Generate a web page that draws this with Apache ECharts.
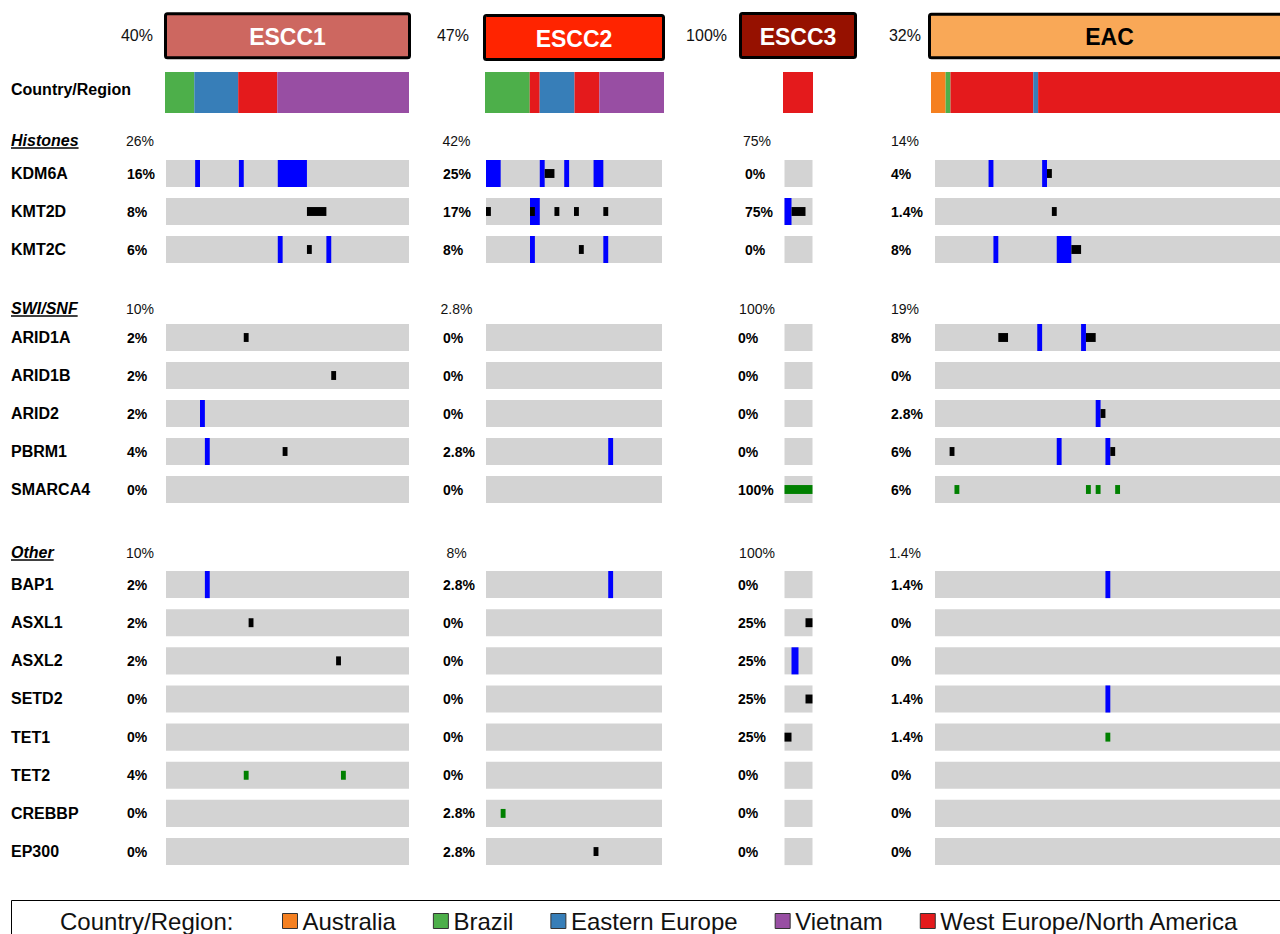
<!DOCTYPE html>
<html>
<head>
<meta charset="utf-8">
<script src="https://cdn.jsdelivr.net/npm/echarts@6/dist/echarts.min.js"></script>
<style>
  html, body { margin: 0; padding: 0; background: #fff; }
  #chart { width: 1280px; height: 934px; }
</style>
</head>
<body>
<div id="chart"></div>
<script>
const FONT = '"Liberation Sans", Arial, Helvetica, sans-serif';

// ---- data ----
const cohorts = ['ESCC1', 'ESCC2', 'ESCC3', 'EAC'];
const cohortSizes = [50, 36, 4, 72];
const cohortAlteredPct = [40, 47, 100, 32];

const sectionNames = ['Histones', 'SWI/SNF', 'Other'];
const histoneGenes = ['KDM6A', 'KMT2D', 'KMT2C'];
const swisnfGenes = ['ARID1A', 'ARID1B', 'ARID2', 'PBRM1', 'SMARCA4'];
const otherGenes = ['BAP1', 'ASXL1', 'ASXL2', 'SETD2', 'TET1', 'TET2', 'CREBBP', 'EP300'];
// share of samples altered in any gene of a pathway, per cohort
const sectionAlteredPct = [[26, 10, 10], [42, 2.8, 8], [75, 100, 100], [14, 19, 1.4]];

const regions = ['Australia', 'Brazil', 'Eastern Europe', 'Vietnam', 'West Europe/North America'];
// consecutive runs of samples by country/region, left to right
const regionRunsESCC1 = [['Brazil', 6], ['Eastern Europe', 9], ['West Europe/North America', 8], ['Vietnam', 27]];
const regionRunsESCC2 = [['Brazil', 9], ['West Europe/North America', 2], ['Eastern Europe', 7], ['West Europe/North America', 5], ['Vietnam', 13]];
const regionRunsESCC3 = [['West Europe/North America', 4]];
const regionRunsEAC = [['Australia', 3], ['Brazil', 1], ['West Europe/North America', 17], ['Eastern Europe', 1], ['West Europe/North America', 50]];

// alterations: [gene, first sample, consecutive samples, class]
// class T = truncating, M = missense, O = other (in-frame)
const altESCC1 = [
  ['KDM6A', 6, 1, 'T'], ['KDM6A', 15, 1, 'T'], ['KDM6A', 23, 6, 'T'],
  ['KMT2D', 29, 4, 'M'],
  ['KMT2C', 23, 1, 'T'], ['KMT2C', 29, 1, 'M'], ['KMT2C', 33, 1, 'T'],
  ['ARID1A', 16, 1, 'M'], ['ARID1B', 34, 1, 'M'], ['ARID2', 7, 1, 'T'],
  ['PBRM1', 8, 1, 'T'], ['PBRM1', 24, 1, 'M'],
  ['BAP1', 8, 1, 'T'], ['ASXL1', 17, 1, 'M'], ['ASXL2', 35, 1, 'M'],
  ['TET2', 16, 1, 'O'], ['TET2', 36, 1, 'O']
];
const altESCC2 = [
  ['KDM6A', 0, 3, 'T'], ['KDM6A', 11, 1, 'T'], ['KDM6A', 12, 2, 'M'], ['KDM6A', 16, 1, 'T'], ['KDM6A', 22, 2, 'T'],
  ['KMT2D', 0, 1, 'M'], ['KMT2D', 9, 2, 'T'], ['KMT2D', 9, 1, 'M'], ['KMT2D', 14, 1, 'M'], ['KMT2D', 18, 1, 'M'], ['KMT2D', 24, 1, 'M'],
  ['KMT2C', 9, 1, 'T'], ['KMT2C', 19, 1, 'M'], ['KMT2C', 24, 1, 'T'],
  ['PBRM1', 25, 1, 'T'],
  ['BAP1', 25, 1, 'T'], ['CREBBP', 3, 1, 'O'], ['EP300', 22, 1, 'M']
];
const altESCC3 = [
  ['KMT2D', 0, 1, 'T'], ['KMT2D', 1, 2, 'M'],
  ['SMARCA4', 0, 4, 'O'],
  ['ASXL1', 3, 1, 'M'], ['ASXL2', 1, 1, 'T'], ['SETD2', 3, 1, 'M'], ['TET1', 0, 1, 'M']
];
const altEAC = [
  ['KDM6A', 11, 1, 'T'], ['KDM6A', 22, 1, 'T'], ['KDM6A', 23, 1, 'M'],
  ['KMT2D', 24, 1, 'M'],
  ['KMT2C', 12, 1, 'T'], ['KMT2C', 25, 3, 'T'], ['KMT2C', 28, 2, 'M'],
  ['ARID1A', 13, 2, 'M'], ['ARID1A', 21, 1, 'T'], ['ARID1A', 30, 1, 'T'], ['ARID1A', 31, 2, 'M'],
  ['ARID2', 33, 1, 'T'], ['ARID2', 34, 1, 'M'],
  ['PBRM1', 3, 1, 'M'], ['PBRM1', 25, 1, 'T'], ['PBRM1', 35, 1, 'T'], ['PBRM1', 36, 1, 'M'],
  ['SMARCA4', 4, 1, 'O'], ['SMARCA4', 31, 1, 'O'], ['SMARCA4', 33, 1, 'O'], ['SMARCA4', 37, 1, 'O'],
  ['BAP1', 35, 1, 'T'], ['SETD2', 35, 1, 'T'], ['TET1', 35, 1, 'O']
];

// ---- styling & layout ----
const cohortColors = ['#cd6760', '#ff2400', '#961100', '#f9a857'];
const cohortTextColors = ['#ffffff', '#ffffff', '#ffffff', '#000000'];
const regionColors = ['#f58020', '#4daf4a', '#377eb8', '#984ea3', '#e41a1c'];
const markColors = { T: '#0000ff', M: '#000000', O: '#008000' };
const ROW_FILL = '#d3d3d3';

const sectionGenes = [histoneGenes, swisnfGenes, otherGenes];
const regionRuns = [regionRunsESCC1, regionRunsESCC2, regionRunsESCC3, regionRunsEAC];
const alterations = [altESCC1, altESCC2, altESCC3, altEAC];

const panelLeft = [166, 486, 784.5, 935];
const panelWidth = [243, 176, 28, 350.6];
const stripLeft = [165, 485, 783, 931];
const stripWidth = [244, 179, 30, 350.6];
const sectionTop = [154.5, 318.5, 565.5];
const rowPitch = [38, 38, 38.14];
const pctLabelX = [[127, 127, 127], [443, 443, 443], [745, 738, 738], [891, 891, 891]];
const sectionHeadY = [140, 308, 552];
const sectionPctX = [140, 456.5, 757, 905];
const headerBoxes = [[165.5, 13.8, 244, 44], [484.5, 15.5, 179, 44], [740.5, 13.5, 115, 44], [929.5, 14.2, 360, 43.5]];
const headerPctRight = [153, 469, 727, 921];

function fmtPct(p) {
  if (p === 0) return '0%';
  if (p < 3) return (Math.round(p * 10) / 10) + '%';
  return Math.round(p) + '%';
}

function textEl(x, y, text, opts) {
  const st = Object.assign({
    text: text, fill: '#000', fontFamily: FONT, fontSize: 14,
    align: 'left', verticalAlign: 'middle', textAlign: 'left', textVerticalAlign: 'middle'
  }, opts || {});
  if (opts && opts.align) st.textAlign = opts.align;
  return { type: 'text', x: x, y: y, silent: true, style: st };
}

const grids = [], xAxes = [], yAxes = [], series = [], graphics = [];

cohorts.forEach((name, c) => {
  const N = cohortSizes[c];

  // country / region strip
  let gi = grids.length;
  grids.push({ left: stripLeft[c], top: 72, width: stripWidth[c], height: 41, outerBoundsMode: 'none' });
  xAxes.push({ gridIndex: gi, type: 'value', min: 0, max: N, show: false });
  yAxes.push({ gridIndex: gi, type: 'category', data: ['Country/Region'], show: false });
  regionRuns[c].forEach(([region, n]) => {
    series.push({
      type: 'bar', name: region, xAxisIndex: gi, yAxisIndex: gi, stack: 'region' + c,
      data: [n], barWidth: '100%', silent: true,
      itemStyle: { color: regionColors[regions.indexOf(region)] }
    });
  });

  // pathway sections
  sectionGenes.forEach((genes, s) => {
    gi = grids.length;
    grids.push({ left: panelLeft[c], top: sectionTop[s], width: panelWidth[c], height: genes.length * rowPitch[s], outerBoundsMode: 'none' });
    xAxes.push({ gridIndex: gi, type: 'value', min: 0, max: N, show: false });

    const items = alterations[c]
      .filter(a => genes.indexOf(a[0]) >= 0)
      .sort((a, b) => (a[3] === 'T' ? 0 : 1) - (b[3] === 'T' ? 0 : 1));
    const pct = genes.map(g => {
      const hit = new Set();
      alterations[c].forEach(a => { if (a[0] === g) for (let k = 0; k < a[2]; k++) hit.add(a[1] + k); });
      return fmtPct(100 * hit.size / N);
    });

    yAxes.push({
      gridIndex: gi, type: 'category', data: genes, inverse: true,
      axisLine: { show: false }, axisTick: { show: false }, splitLine: { show: false },
      axisLabel: {
        interval: 0, align: 'left',
        margin: c === 0 ? panelLeft[c] - 11 : panelLeft[c] - pctLabelX[c][s],
        formatter: (val, idx) => c === 0 ? '{g|' + val + '}{p|' + pct[idx] + '}' : '{p|' + pct[idx] + '}',
        rich: {
          g: { width: 116, fontSize: 16, fontWeight: 'bold', color: '#000', fontFamily: FONT },
          p: { fontSize: 14, fontWeight: 'bold', color: '#000', fontFamily: FONT }
        }
      }
    });

    // grey row backgrounds
    series.push({
      type: 'custom', xAxisIndex: gi, yAxisIndex: gi, silent: true,
      data: genes.map((g, i) => [0, i]),
      renderItem: (params, api) => {
        const y = api.value(1);
        const a = api.coord([0, y]), b = api.coord([N, y]);
        const h = api.size([0, 1])[1] * 27 / 38;
        return { type: 'rect', shape: { x: a[0], y: a[1] - h / 2, width: b[0] - a[0], height: h }, style: { fill: ROW_FILL } };
      }
    });

    // alteration marks
    series.push({
      type: 'custom', xAxisIndex: gi, yAxisIndex: gi, silent: true,
      data: items.map(a => [a[1], genes.indexOf(a[0])]),
      renderItem: (params, api) => {
        const it = items[params.dataIndex];
        const x0 = api.value(0), y = api.value(1);
        const a = api.coord([x0, y]), b = api.coord([x0 + it[2], y]);
        const full = api.size([0, 1])[1] * 27 / 38;
        const h = it[3] === 'T' ? full : full * 0.33;
        return { type: 'rect', shape: { x: a[0], y: a[1] - h / 2, width: b[0] - a[0], height: h }, style: { fill: markColors[it[3]] } };
      }
    });

    graphics.push(textEl(sectionPctX[c], sectionHeadY[s] + 1, fmtPct(sectionAlteredPct[c][s]), { align: 'center', fontSize: 14, fill: '#111' }));
  });

  // cohort header
  const hb = headerBoxes[c];
  graphics.push({ type: 'rect', silent: true, shape: { x: hb[0], y: hb[1], width: hb[2], height: hb[3], r: 2 }, style: { fill: cohortColors[c], stroke: '#000', lineWidth: 3 } });
  graphics.push(textEl(hb[0] + hb[2] / 2, hb[1] + hb[3] / 2 + 1, name, { align: 'center', fontSize: 23, fontWeight: 'bold', fill: cohortTextColors[c] }));
  graphics.push(textEl(headerPctRight[c], 35, fmtPct(cohortAlteredPct[c]), { align: 'right', fontSize: 16, fill: '#111' }));
});

// pathway headings with underline
const measureCtx = document.createElement('canvas').getContext('2d');
measureCtx.font = 'italic bold 16px ' + FONT;
sectionNames.forEach((nm, s) => {
  graphics.push(textEl(11, sectionHeadY[s], nm, { fontSize: 16, fontWeight: 'bold', fontStyle: 'italic' }));
  const w = measureCtx.measureText(nm).width;
  graphics.push({ type: 'line', silent: true, shape: { x1: 11, y1: sectionHeadY[s] + 8, x2: 11 + w, y2: sectionHeadY[s] + 8 }, style: { stroke: '#000', lineWidth: 1.6 } });
});
graphics.push(textEl(11, 89, 'Country/Region', { fontSize: 16, fontWeight: 'bold' }));

// legend frame and caption
graphics.push({ type: 'rect', silent: true, shape: { x: 11.5, y: 900.5, width: 1320, height: 80 }, style: { fill: 'none', stroke: '#000', lineWidth: 1 } });
graphics.push(textEl(60, 921, 'Country/Region:', { fontSize: 24, fill: '#111' }));

const chart = echarts.init(document.getElementById('chart'), null, { renderer: 'svg', width: 1280, height: 934 });
chart.setOption({
  backgroundColor: '#ffffff',
  animation: false,
  textStyle: { fontFamily: FONT },
  grid: grids,
  xAxis: xAxes,
  yAxis: yAxes,
  series: series,
  legend: {
    data: regions, left: 282, top: 909, padding: 0,
    itemWidth: 15, itemHeight: 15, itemGap: 37, icon: 'rect', selectedMode: false,
    itemStyle: { borderColor: '#333', borderWidth: 1 },
    textStyle: { fontSize: 24, color: '#111', fontFamily: FONT }
  },
  graphic: { elements: graphics }
});
</script>
</body>
</html>
